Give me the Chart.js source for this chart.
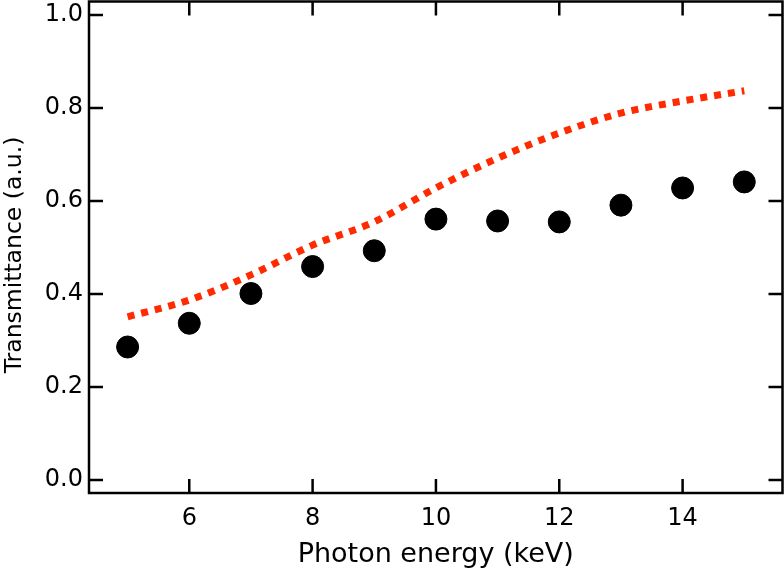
<!DOCTYPE html>
<html><head><meta charset="utf-8">
<script src="https://cdn.jsdelivr.net/npm/chart.js@4/dist/chart.umd.min.js"></script>
<style>html,body{margin:0;padding:0;background:#fff}#wrap{width:784px;height:568px}</style>
</head><body><div id="wrap"><canvas id="c" width="784" height="568"></canvas></div>
<script>
const energies = [5, 6, 7, 8, 9, 10, 11, 12, 13, 14, 15];
const measured = [0.286, 0.337, 0.401, 0.459, 0.493, 0.561, 0.557, 0.555, 0.591, 0.628, 0.641];
const calculated = [0.351, 0.387, 0.441, 0.505, 0.555, 0.628, 0.692, 0.746, 0.789, 0.815, 0.837];
const xTicks = [6, 8, 10, 12, 14];
const yTicks = [0.0, 0.2, 0.4, 0.6, 0.8, 1.0];
const xTitle = 'Photon energy (keV)';
const yTitle = 'Transmittance (a.u.)';

const FONT = "'DejaVu Sans', Verdana, sans-serif";

const frame = {
  id: 'frame',
  afterDraw(chart) {
    const {ctx, chartArea: a, scales} = chart;
    ctx.save();
    ctx.strokeStyle = '#000';
    ctx.lineWidth = 2.5;
    ctx.strokeRect(a.left, a.top, a.right - a.left, a.bottom - a.top);
    const L = 14;
    ctx.beginPath();
    xTicks.forEach(v => {
      const px = scales.x.getPixelForValue(v);
      ctx.moveTo(px, a.bottom); ctx.lineTo(px, a.bottom - L);
      ctx.moveTo(px, a.top); ctx.lineTo(px, a.top + L);
    });
    yTicks.forEach(v => {
      const py = scales.y.getPixelForValue(v);
      ctx.moveTo(a.left, py); ctx.lineTo(a.left + L, py);
      ctx.moveTo(a.right, py); ctx.lineTo(a.right - L, py);
    });
    ctx.stroke();
    // y-axis title
    ctx.translate(15, 255);
    ctx.rotate(-Math.PI / 2);
    ctx.fillStyle = '#000';
    ctx.font = '23.5px ' + FONT;
    ctx.textAlign = 'center';
    ctx.textBaseline = 'middle';
    ctx.fillText(yTitle, 0, 0);
    ctx.restore();
  }
};

new Chart(document.getElementById('c'), {
  type: 'scatter',
  data: {
    datasets: [
      {
        label: 'Calculated',
        data: energies.map((e, i) => ({x: e, y: calculated[i]})),
        showLine: true,
        borderColor: '#ff2a00',
        borderWidth: 7,
        borderDash: [7, 7],
        borderCapStyle: 'butt',
        pointRadius: 0,
        tension: 0.4,
        cubicInterpolationMode: 'monotone',
        order: 2
      },
      {
        label: 'Measured',
        data: energies.map((e, i) => ({x: e, y: measured[i]})),
        backgroundColor: '#000',
        borderColor: '#000',
        pointRadius: 11,
        pointHoverRadius: 11,
        order: 1
      }
    ]
  },
  options: {
    responsive: false,
    animation: false,
    devicePixelRatio: 1,
    layout: {autoPadding: false, padding: {top: 1.5, right: 1.5, left: 0, bottom: 0}},
    plugins: {legend: {display: false}, tooltip: {enabled: false}},
    scales: {
      x: {
        type: 'linear',
        min: 4.374, max: 15.62,
        afterBuildTicks: s => { s.ticks = xTicks.map(v => ({value: v})); },
        afterFit: s => { s.height = 75; s.paddingLeft = 0; s.paddingRight = 0; },
        grid: {display: false, drawTicks: false},
        border: {display: false},
        ticks: {color: '#000', font: {family: FONT, size: 24}, padding: 11, maxRotation: 0,
                callback: v => String(v)},
        title: {display: true, text: xTitle, color: '#000',
                font: {family: FONT, size: 27}, padding: {top: 2, bottom: -3}}
      },
      y: {
        type: 'linear',
        min: -0.028, max: 1.029,
        afterBuildTicks: s => { s.ticks = yTicks.map(v => ({value: v})); },
        afterFit: s => { s.width = 89; s.paddingTop = 0; s.paddingBottom = 0; },
        grid: {display: false, drawTicks: false},
        border: {display: false},
        ticks: {color: '#000', font: {family: FONT, size: 24}, padding: 6,
                callback: v => Number(v).toFixed(1)},
        title: {display: false}
      }
    }
  },
  plugins: [frame]
});
</script></body></html>
